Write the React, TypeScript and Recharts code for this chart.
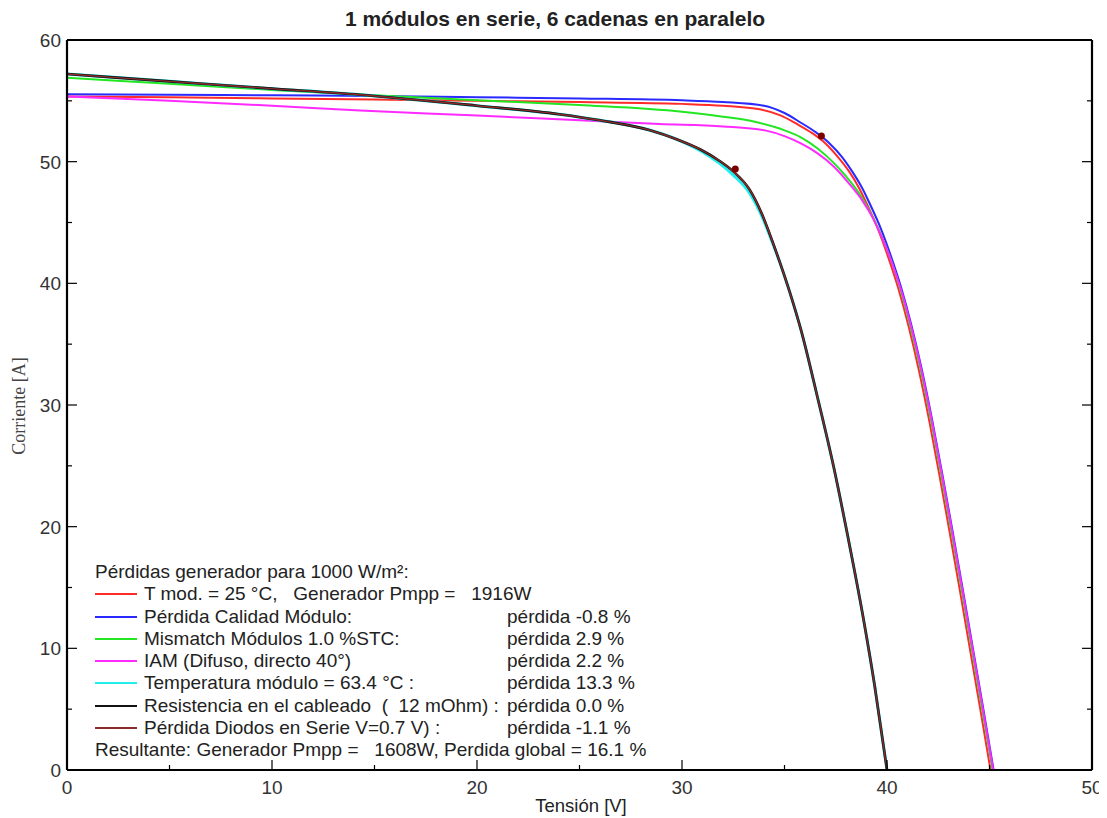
import React from 'react'
import {
  ComposedChart, Line, Scatter, XAxis, YAxis, Legend,
} from 'recharts'

// curvas I-V: tension [V] / corriente [A]
const stcCurve = [
  { v: 0, i: 55.35 }, { v: 5, i: 55.3 }, { v: 10, i: 55.2 }, { v: 15, i: 55.1 }, { v: 20, i: 55.0 },
  { v: 25, i: 54.9 }, { v: 30, i: 54.75 }, { v: 32, i: 54.6 }, { v: 33.8, i: 54.3 }, { v: 34.8, i: 53.8 },
  { v: 35.6, i: 53.1 }, { v: 36.3, i: 52.4 }, { v: 37.0, i: 51.5 }, { v: 37.6, i: 50.4 }, { v: 38.15, i: 49.2 },
  { v: 38.65, i: 47.8 }, { v: 39.05, i: 46.4 }, { v: 39.55, i: 44.5 }, { v: 40.05, i: 42.2 }, { v: 40.55, i: 39.6 },
  { v: 41.05, i: 36.5 }, { v: 41.55, i: 32.9 }, { v: 42.05, i: 28.8 }, { v: 42.55, i: 24.3 }, { v: 43.05, i: 19.6 },
  { v: 43.55, i: 14.8 }, { v: 44.05, i: 9.9 }, { v: 44.55, i: 5.0 }, { v: 45.05, i: 0 },
]
const qualityCurve = [
  { v: 0, i: 55.55 }, { v: 5, i: 55.5 }, { v: 10, i: 55.45 }, { v: 15, i: 55.4 }, { v: 20, i: 55.3 },
  { v: 25, i: 55.2 }, { v: 30, i: 55.05 }, { v: 32, i: 54.9 }, { v: 34, i: 54.6 }, { v: 35, i: 54.0 },
  { v: 35.8, i: 53.2 }, { v: 36.5, i: 52.45 }, { v: 37.2, i: 51.5 }, { v: 37.8, i: 50.4 }, { v: 38.3, i: 49.2 },
  { v: 38.8, i: 47.8 }, { v: 39.2, i: 46.4 }, { v: 39.7, i: 44.5 }, { v: 40.2, i: 42.2 }, { v: 40.7, i: 39.6 },
  { v: 41.2, i: 36.5 }, { v: 41.7, i: 32.9 }, { v: 42.2, i: 28.8 }, { v: 42.7, i: 24.3 }, { v: 43.2, i: 19.6 },
  { v: 43.7, i: 14.8 }, { v: 44.2, i: 9.9 }, { v: 44.7, i: 5.0 }, { v: 45.2, i: 0 },
]
const mismatchCurve = [
  { v: 0, i: 56.9 }, { v: 5, i: 56.4 }, { v: 10, i: 55.9 }, { v: 15, i: 55.45 }, { v: 20, i: 55.05 },
  { v: 25, i: 54.65 }, { v: 30, i: 54.1 }, { v: 32, i: 53.7 }, { v: 33.5, i: 53.3 }, { v: 34.8, i: 52.7 },
  { v: 35.8, i: 52.0 }, { v: 36.6, i: 51.1 }, { v: 37.4, i: 49.9 }, { v: 38.0, i: 48.8 }, { v: 38.6, i: 47.5 },
  { v: 39.1, i: 46.1 }, { v: 39.6, i: 44.4 }, { v: 40.15, i: 42.1 }, { v: 40.65, i: 39.5 }, { v: 41.15, i: 36.4 },
  { v: 41.65, i: 32.8 }, { v: 42.15, i: 28.7 }, { v: 42.65, i: 24.2 }, { v: 43.15, i: 19.5 }, { v: 43.65, i: 14.7 },
  { v: 44.15, i: 9.8 }, { v: 44.65, i: 4.9 }, { v: 45.15, i: 0 },
]
const iamCurve = [
  { v: 0, i: 55.35 }, { v: 5, i: 55.0 }, { v: 10, i: 54.6 }, { v: 14.3, i: 54.2 }, { v: 20, i: 53.8 },
  { v: 25, i: 53.4 }, { v: 28.9, i: 53.1 }, { v: 32, i: 52.9 }, { v: 34.1, i: 52.55 }, { v: 35.0, i: 52.1 },
  { v: 35.8, i: 51.5 }, { v: 36.6, i: 50.7 }, { v: 37.4, i: 49.6 }, { v: 38.1, i: 48.3 }, { v: 38.8, i: 46.8 },
  { v: 39.3, i: 45.4 }, { v: 39.8, i: 43.6 }, { v: 40.3, i: 41.4 }, { v: 40.75, i: 39.1 }, { v: 41.2, i: 36.3 },
  { v: 41.7, i: 32.7 }, { v: 42.2, i: 28.6 }, { v: 42.7, i: 24.1 }, { v: 43.2, i: 19.4 }, { v: 43.7, i: 14.6 },
  { v: 44.2, i: 9.7 }, { v: 44.7, i: 4.8 }, { v: 45.18, i: 0 },
]
const tempCurve = [
  { v: 0, i: 57.2 }, { v: 5, i: 56.6 }, { v: 10, i: 56.0 }, { v: 14.3, i: 55.5 }, { v: 20, i: 54.6 },
  { v: 24, i: 53.9 }, { v: 26, i: 53.4 }, { v: 28.4, i: 52.6 }, { v: 29.8, i: 51.8 }, { v: 30.9, i: 50.9 },
  { v: 31.8, i: 49.9 }, { v: 32.5, i: 48.9 }, { v: 33.3, i: 47.4 }, { v: 33.9, i: 45.5 }, { v: 34.4, i: 43.4 },
  { v: 34.9, i: 41.1 }, { v: 35.4, i: 38.5 }, { v: 35.8, i: 36.2 }, { v: 36.6, i: 30.7 }, { v: 37.4, i: 24.9 },
  { v: 38.1, i: 19.1 }, { v: 38.8, i: 12.9 }, { v: 39.4, i: 6.9 }, { v: 40.0, i: 0 },
]
const wiringCurve = [
  { v: 0, i: 57.2 }, { v: 5, i: 56.6 }, { v: 10, i: 56.0 }, { v: 14.3, i: 55.5 }, { v: 20, i: 54.6 },
  { v: 24, i: 53.9 }, { v: 26, i: 53.4 }, { v: 28.4, i: 52.6 }, { v: 29.8, i: 51.8 }, { v: 30.9, i: 51.0 },
  { v: 31.8, i: 50.1 }, { v: 32.5, i: 49.2 }, { v: 33.3, i: 47.7 }, { v: 33.9, i: 45.7 }, { v: 34.4, i: 43.5 },
  { v: 34.9, i: 41.1 }, { v: 35.4, i: 38.5 }, { v: 35.8, i: 36.2 }, { v: 36.6, i: 30.7 }, { v: 37.4, i: 24.9 },
  { v: 38.1, i: 19.1 }, { v: 38.8, i: 12.9 }, { v: 39.4, i: 6.9 }, { v: 40.0, i: 0 },
]
const diodeCurve = wiringCurve

// puntos de maxima potencia
const mppStc = [{ v: 36.8, i: 52.1 }]
const mppFinal = [{ v: 32.6, i: 49.4 }]

const xTicks = [0, 5, 10, 15, 20, 25, 30, 35, 40, 45, 50]
const yTicks = [0, 5, 10, 15, 20, 25, 30, 35, 40, 45, 50, 55, 60]

const seriesNames = [
  'T mod. = 25 °C,   Generador Pmpp =   1916W',
  'Pérdida Calidad Módulo:',
  'Mismatch Módulos 1.0 %STC:',
  'IAM (Difuso, directo 40°)',
  'Temperatura módulo = 63.4 °C :',
  'Resistencia en el cableado  (  12 mOhm) :',
  'Pérdida Diodos en Serie V=0.7 V) :',
]
const seriesLosses = [
  '', 'pérdida -0.8 %', 'pérdida 2.9 %', 'pérdida 2.2 %',
  'pérdida 13.3 %', 'pérdida 0.0 %', 'pérdida -1.1 %',
]
const seriesColors = ['#ff2a2a', '#2a2aff', '#22e622', '#ff2aff', '#22eeee', '#111111', '#8a2c2c']
const seriesData = [stcCurve, qualityCurve, mismatchCurve, iamCurve, tempCurve, wiringCurve, diodeCurve]
const seriesWidths = [2, 2, 2, 2, 3, 2.6, 1.4]

const FONT = '"Liberation Sans", Arial, Helvetica, sans-serif'
const TICK_COLOR = '#333'

const BottomTick = ({ x, y, payload }: any) => {
  const major = payload.value % 10 === 0
  return (
    <g>
      <line x1={x} x2={x} y1={y} y2={y - (major ? 10 : 5)} stroke="#000" strokeWidth={1.2} />
      {major && (
        <text x={x} y={y + 24} textAnchor="middle" fontSize={19} fill={TICK_COLOR} fontFamily={FONT}>
          {payload.value}
        </text>
      )}
    </g>
  )
}

const TopTick = ({ x, y, payload }: any) => {
  const major = payload.value % 10 === 0
  return <line x1={x} x2={x} y1={y} y2={y + (major ? 10 : 5)} stroke="#000" strokeWidth={1.2} />
}

const LeftTick = ({ x, y, payload }: any) => {
  const major = payload.value % 10 === 0
  return (
    <g>
      <line x1={x} x2={x + (major ? 10 : 5)} y1={y} y2={y} stroke="#000" strokeWidth={1.2} />
      {major && (
        <text x={x - 6} y={y + 7} textAnchor="end" fontSize={19} fill={TICK_COLOR} fontFamily={FONT}>
          {payload.value}
        </text>
      )}
    </g>
  )
}

const RightTick = ({ x, y, payload }: any) => {
  const major = payload.value % 10 === 0
  return <line x1={x} x2={x - (major ? 10 : 5)} y1={y} y2={y} stroke="#000" strokeWidth={1.2} />
}

const LossLegend = ({ payload }: any) => {
  const colorOf = (name: string, k: number) =>
    (payload || []).find((p: any) => p.value === name)?.color || seriesColors[k]
  const rowStyle: React.CSSProperties = { position: 'relative', height: 22.3, lineHeight: '22.3px', whiteSpace: 'pre' }
  return (
    <div style={{ fontFamily: FONT, fontSize: 19, color: '#222' }}>
      <div style={rowStyle}>Pérdidas generador para 1000 W/m²:</div>
      {seriesNames.map((name, k) => (
        <div key={name} style={rowStyle}>
          <span style={{ position: 'absolute', left: 0, top: 10, width: 42, height: 2, background: colorOf(name, k) }} />
          <span style={{ position: 'absolute', left: 49 }}>{name}</span>
          <span style={{ position: 'absolute', left: 412 }}>{seriesLosses[k]}</span>
        </div>
      ))}
      <div style={rowStyle}>Resultante: Generador Pmpp =   1608W, Perdida global = 16.1 %</div>
    </div>
  )
}

const Dot = ({ cx, cy }: any) => <circle cx={cx} cy={cy} r={3.5} fill="#7a0000" />

export default function App() {
  return (
    <div style={{ position: 'relative', width: 1099, height: 810, fontFamily: FONT }}>
      <ComposedChart width={1099} height={810} margin={{ top: 0, right: 0, bottom: 0, left: 0 }}>
        <XAxis
          xAxisId="bottom" type="number" dataKey="v" domain={[0, 50]} ticks={xTicks}
          height={48} tickSize={0} tickMargin={0} tickLine={false} tick={<BottomTick />}
          axisLine={{ stroke: '#000', strokeWidth: 2.2 }} allowDataOverflow
        />
        <XAxis
          xAxisId="top" orientation="top" type="number" domain={[0, 50]} ticks={xTicks}
          height={32} tickSize={0} tickMargin={0} tickLine={false} tick={<TopTick />}
          axisLine={{ stroke: '#000', strokeWidth: 2.2 }} allowDataOverflow
        />
        <YAxis
          yAxisId="left" type="number" dataKey="i" domain={[0, 60]} ticks={yTicks}
          width={59} tickSize={0} tickMargin={0} tickLine={false} tick={<LeftTick />}
          axisLine={{ stroke: '#000', strokeWidth: 2.2 }} allowDataOverflow
        />
        <YAxis
          yAxisId="right" orientation="right" type="number" domain={[0, 60]} ticks={yTicks}
          width={15} tickSize={0} tickMargin={0} tickLine={false} tick={<RightTick />}
          axisLine={{ stroke: '#000', strokeWidth: 2.2 }} allowDataOverflow
        />
        <Legend
          layout="horizontal" verticalAlign="middle" align="center"
          wrapperStyle={{ left: 87, top: 553, width: 660 }}
          content={<LossLegend />}
        />
        {seriesData.map((d, k) => (
          <Line
            key={seriesNames[k]}
            xAxisId="bottom" yAxisId="left"
            data={d} dataKey="i" name={seriesNames[k]}
            type="monotone" stroke={seriesColors[k]} strokeWidth={seriesWidths[k]}
            dot={false} activeDot={false} isAnimationActive={false}
          />
        ))}
        <Scatter xAxisId="bottom" yAxisId="left" data={mppStc} dataKey="i" shape={<Dot />} legendType="none" isAnimationActive={false} />
        <Scatter xAxisId="bottom" yAxisId="left" data={mppFinal} dataKey="i" shape={<Dot />} legendType="none" isAnimationActive={false} />
        <text x={547} y={18} textAnchor="middle" fontSize={21} fontWeight="bold" fill="#222" fontFamily={FONT}>
          1 módulos en serie, 6 cadenas en paralelo
        </text>
        <text x={573} y={804} textAnchor="middle" fontSize={18.5} fill="#222" fontFamily={FONT}>
          Tensión [V]
        </text>
        <text
          x={17} y={398} textAnchor="middle" fontSize={18} fill="#444"
          fontFamily='"Liberation Serif", "Times New Roman", serif' transform="rotate(-90 17 398)"
        >
          Corriente [A]
        </text>
      </ComposedChart>
    </div>
  )
}
